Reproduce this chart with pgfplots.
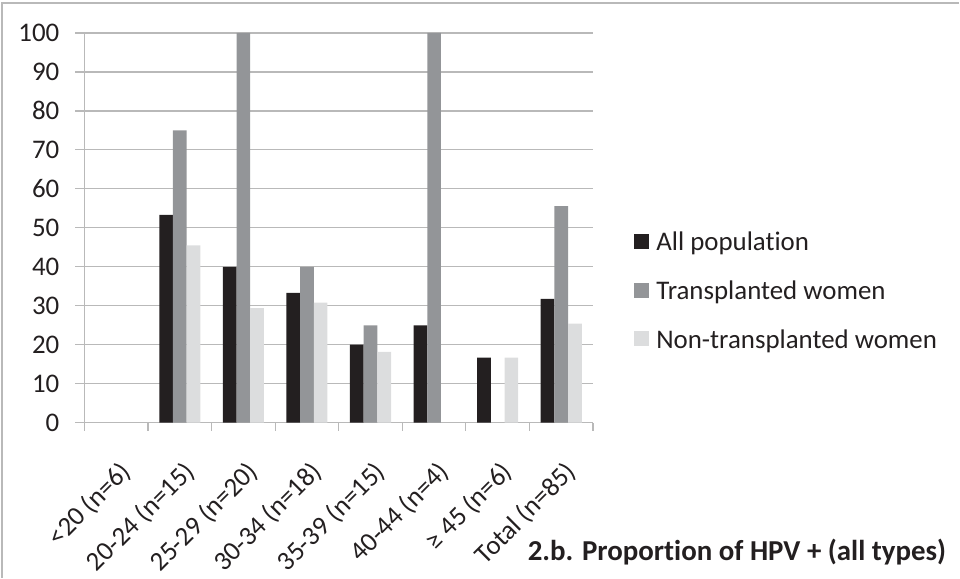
\documentclass[border=0pt]{standalone}
\usepackage{fontspec}
\setmainfont{Carlito}[Ligatures=NoCommon]
\usepackage{pgfplots}
\pgfplotsset{compat=1.18}
\definecolor{txt}{RGB}{35,31,32}
\definecolor{cblack}{RGB}{35,31,32}
\definecolor{cgray}{RGB}{147,149,152}
\definecolor{clight}{RGB}{220,221,222}
\definecolor{cgrid}{RGB}{185,185,185}
\begin{document}
\begin{tikzpicture}[x=1bp,y=1bp]
  % picture frame (960 x 578)
  \path (0,0) rectangle (960,-578);
  \draw[cgrid,line width=1.5bp] (2,-578) -- (2,-3) -- (960,-3);

  \begin{axis}[
    at={(84.5bp,-423bp)}, anchor=south west,
    scale only axis,
    width=509bp, height=390bp,
    xmin=-0.5, xmax=7.5,
    ymin=0, ymax=100,
    ytick={0,10,...,100},
    xtick={0,...,7},
    xticklabels={{<20 (n=6)},{20-24 (n=15)},{25-29 (n=20)},{30-34 (n=18)},{35-39 (n=15)},{40-44 (n=4)},{≥ 45 (n=6)},{Total (n=85)}},
    minor xtick={-0.5,0.5,...,7.5},
    major x tick style={draw=none},
    minor x tick style={cgrid,line width=1.2bp},
    minor tick length=8bp,
    major tick length=9bp,
    tick align=outside,
    y tick style={cgrid,line width=1.2bp},
    axis lines*=left,
    axis line style={cgrid,line width=1.2bp,-},
    ymajorgrids,
    grid style={cgrid,line width=1.2bp},
    ybar=0pt, bar width=13.7bp,
    /pgf/number format/assume math mode=true,
    tick label style={font=\fontsize{27}{30}\selectfont, text=txt},
    x tick label style={rotate=45, anchor=north east, inner sep=2bp, xshift=-16bp, yshift=-19bp},
    y tick label style={inner sep=2bp, xshift=-14bp},
    legend style={
      at={(1.075,0.34)}, anchor=west,
      draw=none, fill=none,
      font=\fontsize{27}{30}\selectfont,
      text=txt,
      row sep=28bp,
      legend cell align=left,
      nodes={inner sep=1bp, text depth=0pt}
    },
    legend image code/.code={\fill[#1] (0bp,-7.5bp) rectangle (15bp,7.5bp);},
  ]
  \addplot[fill=cblack, draw=none] coordinates {(1,53.3) (2,40) (3,33.3) (4,20) (5,25) (6,16.7) (7,31.8)};
  \addlegendentry{\hspace{6bp}All population}
  \addplot[fill=cgray, draw=none] coordinates {(1,75) (2,100) (3,40) (4,25) (5,100) (7,55.6)};
  \addlegendentry{\hspace{6bp}Transplanted women}
  \addplot[fill=clight, draw=none] coordinates {(1,45.5) (2,29.4) (3,30.8) (4,18.2) (6,16.7) (7,25.4)};
  \addlegendentry{\hspace{6bp}Non-transplanted women}
  \end{axis}

  \node[anchor=base east, inner sep=0pt, text=txt] at (947,-561) {\bfseries\fontsize{29}{32}\selectfont 2.b. Proportion of HPV + (all types)};
\end{tikzpicture}
\end{document}
